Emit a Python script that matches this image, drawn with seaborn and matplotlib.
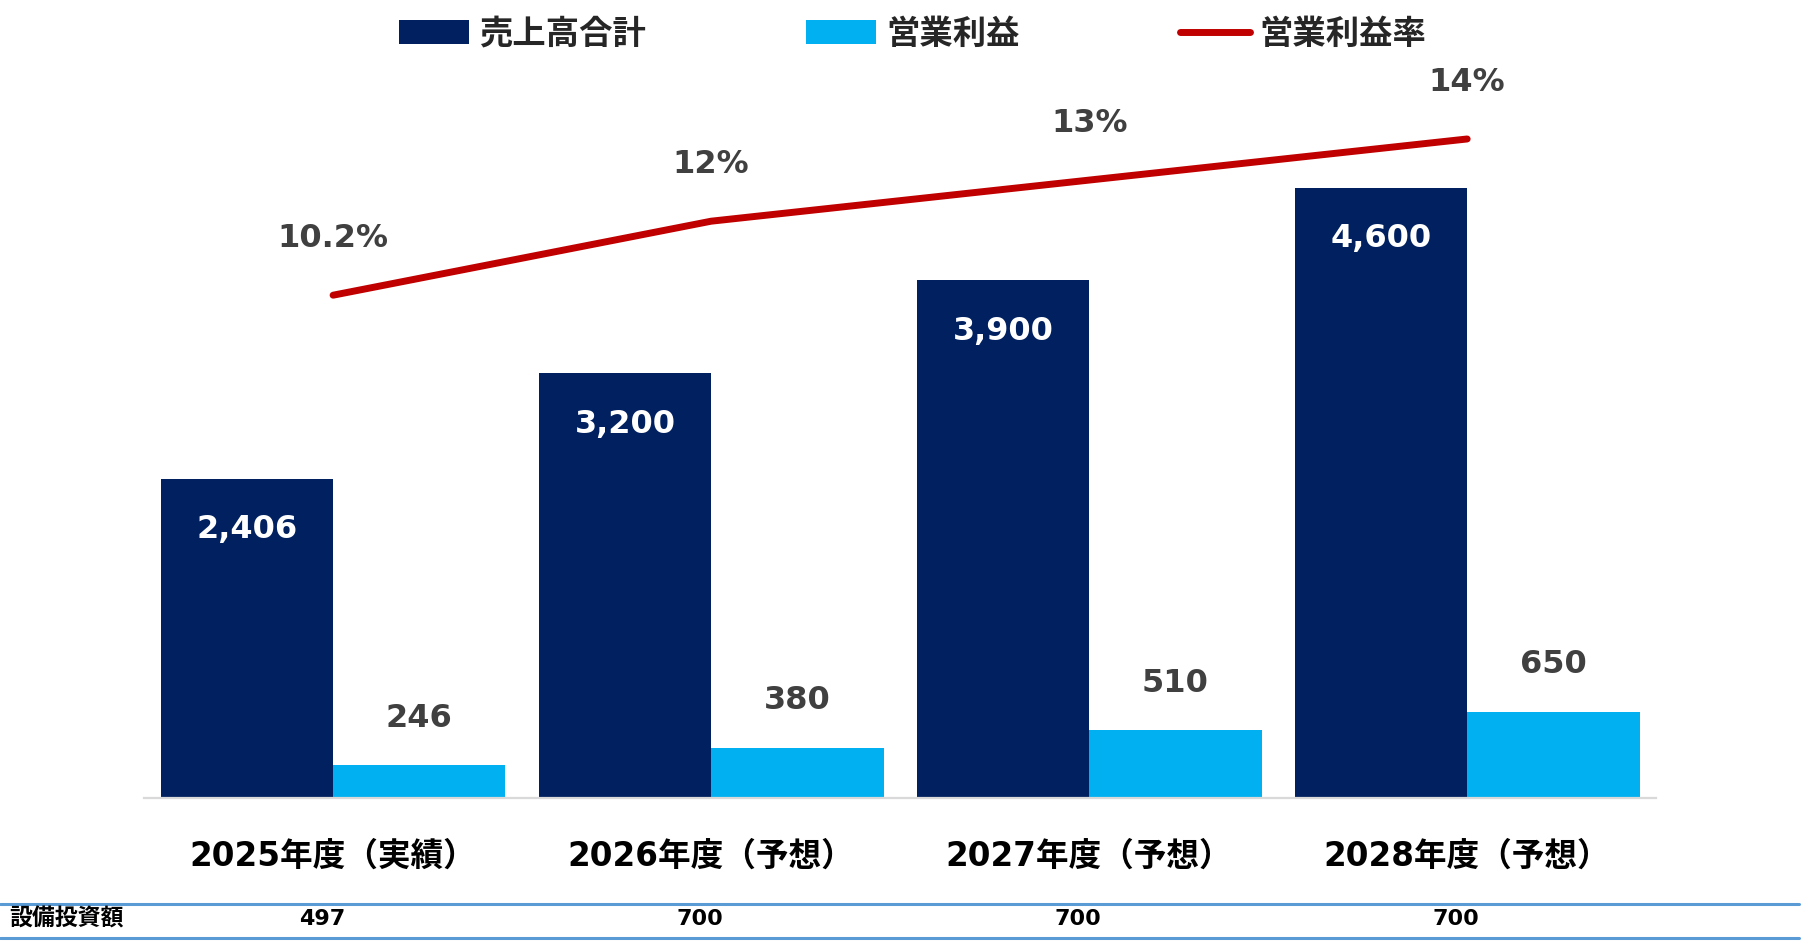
import numpy as np
import pandas as pd
import matplotlib.pyplot as plt
import seaborn as sns
from matplotlib.lines import Line2D

# ===== DATA =====
YEARS = ["2025年度（実績）", "2026年度（予想）", "2027年度（予想）", "2028年度（予想）"]
SALES = [2406, 3200, 3900, 4600]
PROFIT = [246, 380, 510, 650]
MARGIN = [10.2, 12, 13, 14]
MARGIN_LABELS = ["10.2%", "12%", "13%", "14%"]
CAPEX = [497, 700, 700, 700]
SERIES = ["売上高合計", "営業利益", "営業利益率"]
TABLE_TITLE = "設備投資額"
# ================

NAVY = "#002060"
CYAN = "#00B0F0"
RED = "#C00000"
GREY = "#404040"
TABLE_BLUE = "#5B9BD5"
JP = ["DejaVu Sans", "Noto Sans CJK JP"]

sns.set_style("white")
plt.rcParams["font.family"] = JP

df = pd.DataFrame({
    "year": YEARS * 2,
    "value": SALES + PROFIT,
    "series": [SERIES[0]] * len(YEARS) + [SERIES[1]] * len(YEARS),
})

fig = plt.figure(figsize=(18.01, 9.5), dpi=100)
ax = fig.add_axes([0.080, 0.16, 0.8396, 0.7768])

sns.barplot(data=df, x="year", y="value", hue="series", palette=[NAVY, CYAN],
            width=0.912, gap=0, saturation=1, linewidth=0, edgecolor="none", ax=ax)
ax.set_xlim(-0.5, len(YEARS) - 0.5)
ax.set_ylim(0, 5561)

# labels on bars
for bar, v in zip(ax.containers[0], SALES):
    ax.annotate(f"{v:,}", (bar.get_x() + bar.get_width() / 2, bar.get_height()),
                xytext=(0, -36.5), textcoords="offset points", ha="center", va="center",
                color="white", fontsize=23, fontweight="bold", family="DejaVu Sans")
for bar, v in zip(ax.containers[1], PROFIT):
    ax.annotate(f"{v:,}", (bar.get_x() + bar.get_width() / 2, bar.get_height()),
                xytext=(0, 34), textcoords="offset points", ha="center", va="center",
                color=GREY, fontsize=23, fontweight="bold", family="DejaVu Sans")

# operating margin line
ax2 = ax.twinx()
x_pos = np.arange(len(YEARS))
sns.lineplot(x=x_pos, y=MARGIN, color=RED, lw=5, solid_capstyle="round", ax=ax2)
ax2.set_ylim(-2.03, 15.92)
for x, m, lbl in zip(x_pos, MARGIN, MARGIN_LABELS):
    ax2.annotate(lbl, (x, m), xytext=(0, 41), textcoords="offset points",
                 ha="center", va="center", color=GREY, fontsize=23,
                 fontweight="bold", family="DejaVu Sans")

# axes cosmetics
for a in (ax, ax2):
    a.set_xlabel("")
    a.set_ylabel("")
    a.set_yticks([])
    for s in ("top", "left", "right"):
        a.spines[s].set_visible(False)
ax2.spines["bottom"].set_visible(False)
ax.spines["bottom"].set_color("#D9D9D9")
ax.spines["bottom"].set_linewidth(1.6)
ax.tick_params(axis="x", length=0, pad=30)
for lbl in ax.get_xticklabels():
    lbl.set_fontsize(23.5)
    lbl.set_fontweight("bold")
    lbl.set_color("black")

# legend
handles, _ = ax.get_legend_handles_labels()
ax.get_legend().remove()
fig.legend(handles + [ax2.lines[0]], SERIES, loc="center", bbox_to_anchor=(0.507, 0.964),
           ncol=3, frameon=False, prop=dict(family=JP, weight="bold", size=24),
           handlelength=2.1, handleheight=0.72, handletextpad=0.3, columnspacing=4.8)

# capex row under the chart
for y in (1 - 904 / 950, 1 - 938 / 950):
    fig.add_artist(Line2D([0, 0.999], [y, y], transform=fig.transFigure,
                          color=TABLE_BLUE, lw=2.2))
row_y = 1 - 919 / 950
fig.text(0.005, row_y, TABLE_TITLE, ha="left", va="center", fontsize=16.5,
         fontweight="bold", color="black")
for x, v in zip(x_pos, CAPEX):
    ax.annotate(f"{v}", (x, row_y), xycoords=("data", "figure fraction"),
                xytext=(-8, 0), textcoords="offset points", ha="center", va="center",
                fontsize=16, fontweight="bold", color="black")

fig.savefig("out.png", dpi=100)
